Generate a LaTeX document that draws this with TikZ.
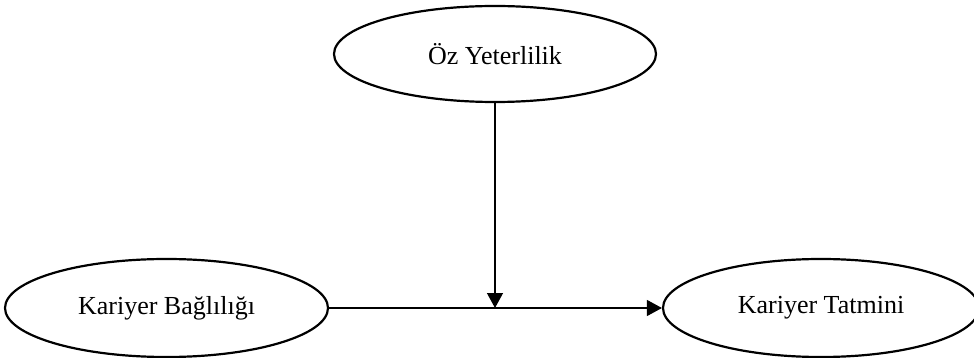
\documentclass[tikz,border=0pt]{standalone}
\usepackage{fontspec}
\setmainfont{Liberation Serif}
\usetikzlibrary{shapes.geometric,arrows.meta}
\begin{document}
\begin{tikzpicture}[x=1pt,y=-1pt,
  oval/.style={ellipse,draw,line width=2.2pt,inner sep=0pt,
    font=\fontsize{26}{30}\selectfont},
  conn/.style={line width=1.3pt,-{Triangle[length=15pt,width=16pt]}}]
\useasboundingbox (0,0) rectangle (974,358);
\node[oval,minimum width=322pt,minimum height=96pt] (oz) at (495,54) {Öz Yeterlilik};
\node[oval,minimum width=323pt,minimum height=98pt] (kb) at (166.5,308) {Kariyer Bağlılığı};
\node[oval,minimum width=316pt,minimum height=98pt] (kt) at (821,308) {Kariyer Tatmini};
\coordinate (m) at (oz.south |- kb.east);
\draw[conn] (kb.east) -- (kt.west);
\draw[conn] (oz.south) -- (m);
\end{tikzpicture}
\end{document}
